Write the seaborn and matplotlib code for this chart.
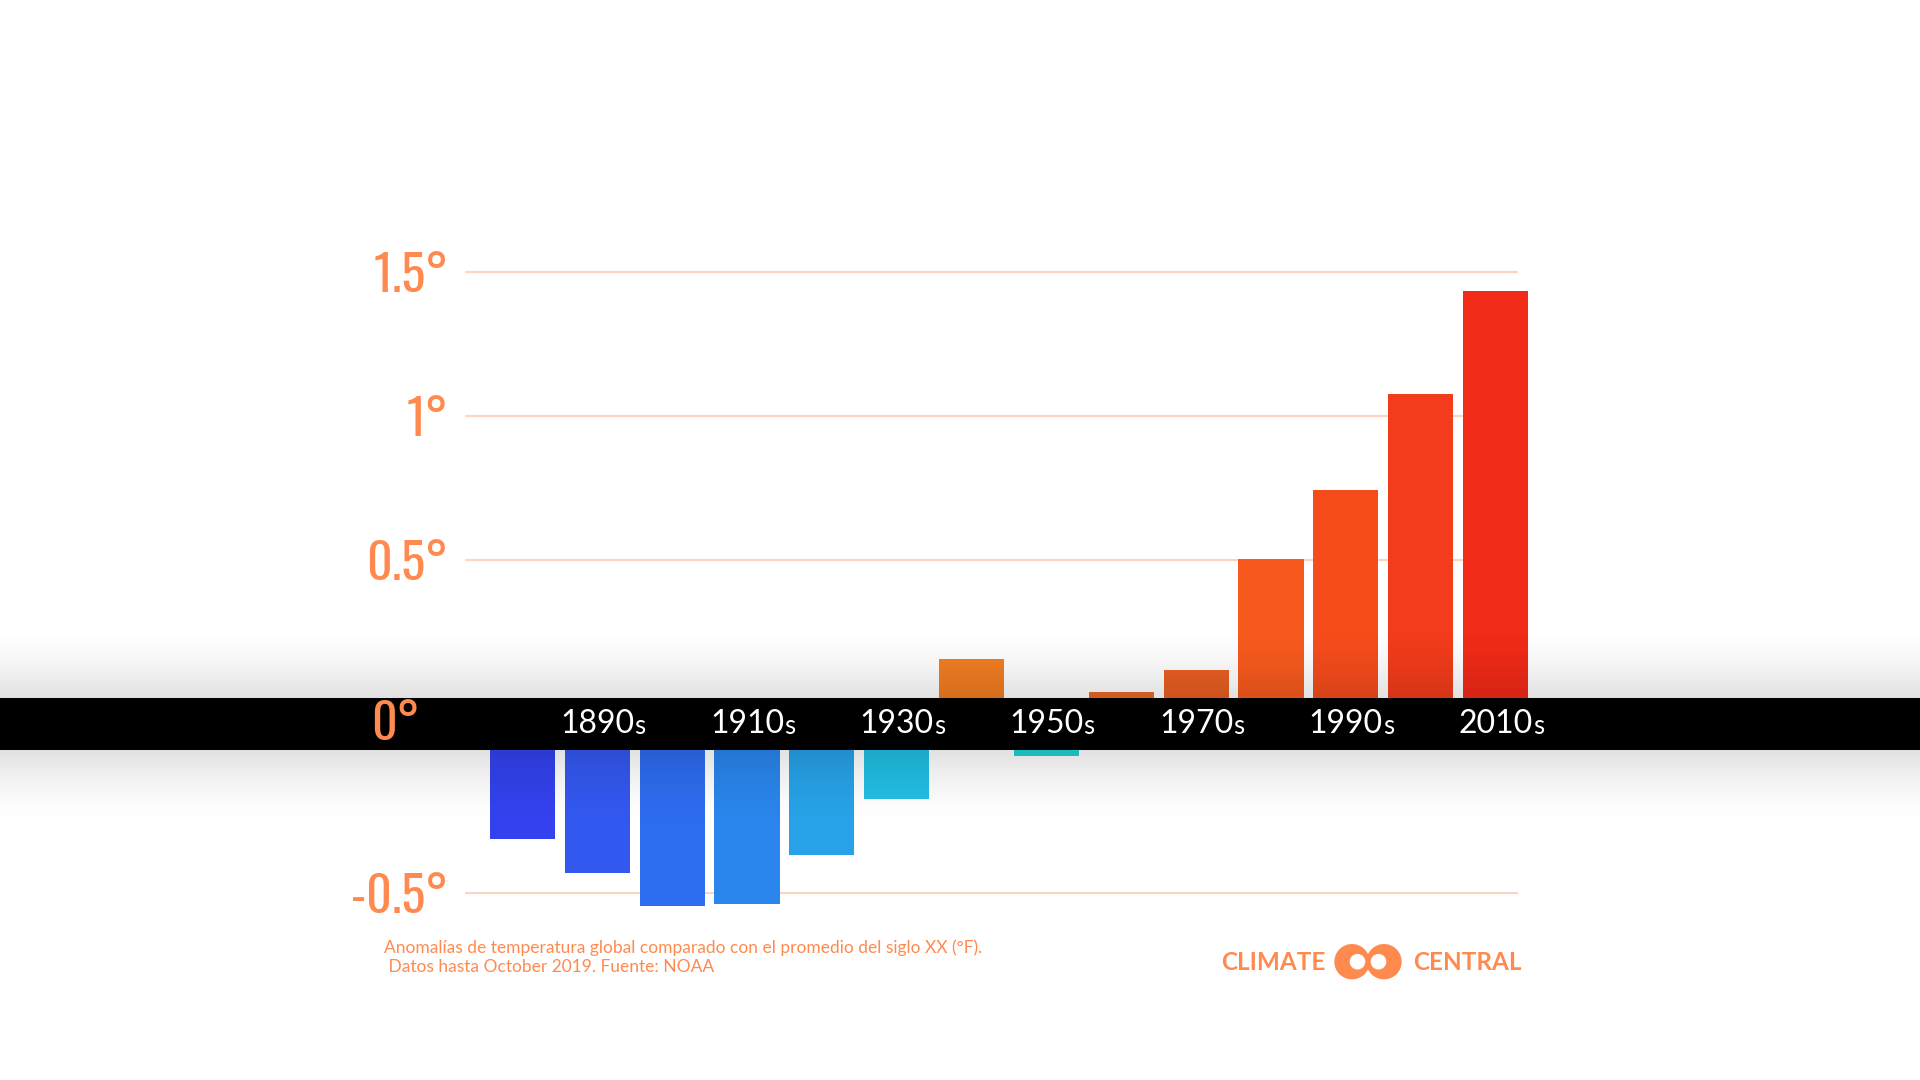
import numpy as np
import pandas as pd
import matplotlib
matplotlib.use("Agg")
import matplotlib.pyplot as plt
import matplotlib.transforms as mtransforms
from matplotlib.patches import Rectangle, Ellipse
from matplotlib import font_manager
import seaborn as sns

# ---------------- data ----------------
decades = ["1880s", "1890s", "1900s", "1910s", "1920s", "1930s", "1940s",
           "1950s", "1960s", "1970s", "1980s", "1990s", "2000s", "2010s"]
anomaly = [-0.315, -0.43, -0.545, -0.54, -0.37, -0.175, 0.156,
           -0.024, 0.041, 0.119, 0.502, 0.742, 1.076, 1.434]
bar_colors = ["#3342ee", "#3358f0", "#2e6cef", "#2a86ec", "#27a2e8", "#22bfe4", "#f27e22",
              "#20d2d8", "#ea6a28", "#e95f23", "#f85a1e", "#f64c1c", "#f33c1b", "#f22a18"]
labeled = ["1890s", "1910s", "1930s", "1950s", "1970s", "1990s", "2010s"]
pos_ticks = [0.5, 1.0, 1.5]
pos_tick_labels = ["0.5°", "1°", "1.5°"]
neg_ticks = [-0.5]
neg_tick_labels = ["-0.5°"]
zero_label = "0°"
note = ("Anomalías de temperatura global comparado con el promedio del siglo XX (°F).\n"
        " Datos hasta October 2019. Fuente: NOAA")
logo_left = "CLIMATE"
logo_right = "CENTRAL"

ORANGE = "#ff8a4f"
GRID = "#ffd3c2"

# ---------------- fonts ----------------
available = {f.name for f in font_manager.fontManager.ttflist}
def pick(cands):
    for c in cands:
        if c in available:
            return c
    return "DejaVu Sans"
COND = pick(["Oswald", "Bebas Neue", "Roboto Condensed", "Liberation Sans Narrow",
             "DejaVu Sans Condensed", "Roboto", "DejaVu Sans"])
SANS = pick(["Lato", "Open Sans", "Noto Sans", "DejaVu Sans"])
BOLD = pick(["Lato", "Open Sans", "DejaVu Sans"])

df = pd.DataFrame({"decade": decades, "anomaly": anomaly})
palette = dict(zip(decades, bar_colors))

W, H = 1920, 1080
fig = plt.figure(figsize=(19.2, 10.8), dpi=100, facecolor="white")

# pixel layout
PX_PER_UNIT = 288.0
ZERO_TOP = 704.0      # zero line of upper panel (px from top)
ZERO_BOT = 748.7      # zero line of lower panel
AX_L, AX_R = 465.0, 1560.0
GRID_R = 1517.0
TOP_MAX = 1.6
BOT_MIN = -0.6

def fx(px):
    return px / W

def fy(py):
    return 1 - py / H

ax_top = fig.add_axes([fx(AX_L), fy(ZERO_TOP), fx(AX_R) - fx(AX_L),
                       TOP_MAX * PX_PER_UNIT / H])
ax_bot = fig.add_axes([fx(AX_L), fy(ZERO_BOT - BOT_MIN * PX_PER_UNIT), fx(AX_R) - fx(AX_L),
                       -BOT_MIN * PX_PER_UNIT / H])

step = 74.85
x0 = (AX_L - 522.5) / step
x1 = (AX_R - 522.5) / step
grid_frac = (GRID_R - AX_L) / (AX_R - AX_L)

for ax, ylim, ticks, labels in [(ax_top, (0, TOP_MAX), pos_ticks, pos_tick_labels),
                                (ax_bot, (BOT_MIN, 0), neg_ticks, neg_tick_labels)]:
    ax.set_facecolor("none")
    for t in ticks:
        ax.axhline(t, xmin=0, xmax=grid_frac, color=GRID, lw=1.5, zorder=0)
    sns.barplot(data=df, x="decade", y="anomaly", hue="decade", palette=palette,
                order=decades, hue_order=decades, legend=False, width=0.87,
                saturation=1, linewidth=0, ax=ax, zorder=2)
    ax.set_xlim(x0, x1)
    ax.set_ylim(*ylim)
    ax.set_yticks(ticks)
    ax.set_yticklabels(labels)
    ax.tick_params(axis="y", length=0, pad=12, labelcolor=ORANGE, labelsize=36)
    for lab in ax.get_yticklabels():
        lab.set_fontfamily(COND)
        lab.set_fontweight("bold")
    ax.set_xticks([])
    ax.set_xlabel("")
    ax.set_ylabel("")
    for s in ax.spines.values():
        s.set_visible(False)

# ---------------- overlay: shadow, band, labels ----------------
ax_over = fig.add_axes([0, 0, 1, 1], zorder=5)
ax_over.set_xlim(0, 1)
ax_over.set_ylim(0, 1)
ax_over.axis("off")
ax_over.patch.set_alpha(0)

rows = np.arange(H)
alpha = np.zeros(H)
up = (rows >= 625) & (rows < 698)
alpha[up] = 0.125 * ((rows[up] - 625) / 73.0) ** 1.6
dn = (rows >= 750) & (rows < 825)
alpha[dn] = 0.12 * (1 - (rows[dn] - 750) / 75.0) ** 1.6
shade = np.zeros((H, 1, 4))
shade[:, 0, 3] = alpha
ax_over.imshow(shade, extent=[0, 1, 0, 1], aspect="auto", origin="upper",
               interpolation="bilinear", zorder=1)

ax_over.add_patch(Rectangle((0, fy(750)), 1, fy(697.7) - fy(750),
                            facecolor="black", edgecolor="none", zorder=2))

ax_over.text(fx(420), fy(724), zero_label, ha="right", va="center", color=ORANGE,
             fontsize=36, fontfamily=COND, fontweight="bold", zorder=3)

blend = mtransforms.blended_transform_factory(ax_top.transData, ax_over.transAxes)
for lab in labeled:
    i = decades.index(lab)
    t = ax_over.text(i, fy(733), lab[:-1], transform=blend, ha="center", va="baseline",
                     color="white", fontsize=23, fontfamily=SANS, zorder=3)
    ax_over.annotate(lab[-1], xy=(1, 0), xycoords=t, ha="left", va="bottom",
                     color="white", fontsize=18.5, fontfamily=SANS, zorder=3)

# footnote (baseline of last line)
ax_over.text(fx(384), fy(972), note, ha="left", va="baseline", color=ORANGE,
             fontsize=12.5, fontfamily=SANS, linespacing=1.22, zorder=3)

# logo
ax_over.text(fx(1325), fy(969.5), logo_left, ha="right", va="baseline", color=ORANGE,
             fontsize=17.5, fontfamily=BOLD, fontweight="bold", zorder=3)
ax_over.text(fx(1413), fy(969.5), logo_right, ha="left", va="baseline", color=ORANGE,
             fontsize=17.5, fontfamily=BOLD, fontweight="bold", zorder=3)
cy = 961.7
for cx in (1352.0, 1384.0):
    ax_over.add_patch(Ellipse((fx(cx), fy(cy)), 2 * 17.7 / W, 2 * 17.7 / H,
                              facecolor=ORANGE, edgecolor="none", zorder=3))
for cx, r in ((1357.5, 7.8), (1378.5, 7.8)):
    ax_over.add_patch(Ellipse((fx(cx), fy(cy)), 2 * r / W, 2 * r / H,
                              facecolor="white", edgecolor="none", zorder=4))

fig.savefig("out.png", dpi=100, facecolor="white")
